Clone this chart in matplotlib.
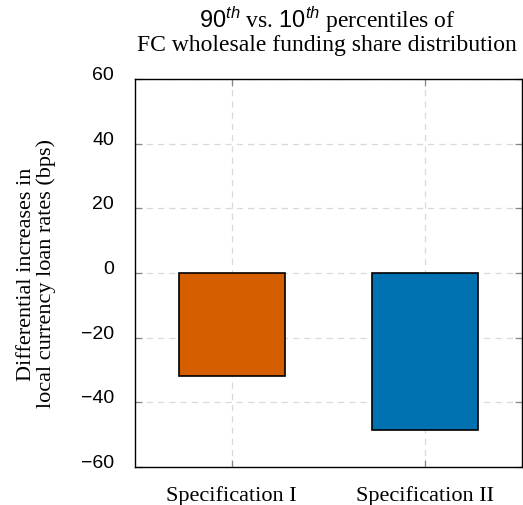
import matplotlib
matplotlib.use("Agg")
import matplotlib.pyplot as plt

specs = ["Specification I", "Specification II"]
diffs = [-32, -48.5]
bar_colors = ["#D55E00", "#0072B2"]
yticks = [-60, -40, -20, 0, 20, 40, 60]

plt.rcParams["mathtext.fontset"] = "custom"
plt.rcParams["mathtext.rm"] = "Liberation Sans"
plt.rcParams["mathtext.it"] = "Liberation Sans:italic"

fig = plt.figure(figsize=(5.23, 5.06), dpi=100)
ax = fig.add_axes([135 / 523, 38 / 506, 387 / 523, 388 / 506])

x = [1, 2]
ax.bar(x, diffs, width=0.55, color=bar_colors, edgecolor="black", linewidth=1.2, zorder=3)

ax.set_xlim(0.5, 2.5)
ax.set_ylim(-60, 60)
ax.set_xticks(x)
ax.set_xticklabels(specs, family="Liberation Serif", fontsize=16)
ax.set_yticks(yticks)
ax.set_yticklabels([str(v).replace("-", "\u2212") for v in yticks],
                   family="Liberation Sans", fontsize=14, va="baseline")

ax.grid(True, linestyle=(0, (5, 4)), color="#d9d9d9", linewidth=0.9, zorder=0)
ax.tick_params(direction="in", length=5, color="#888888", top=True, right=True,
               width=0.9)
ax.tick_params(axis="y", pad=15)
ax.tick_params(axis="x", pad=13)
for s in ax.spines.values():
    s.set_linewidth(1.0)
    s.set_color("black")

ax.set_ylabel("Differential increases in\nlocal currency loan rates (bps)",
              family="Liberation Serif", fontsize=16, linespacing=1.05)
ax.yaxis.set_label_coords(-0.204, 0.5)

fig.text(327 / 523, 1 - 30 / 506,
         r"$\mathrm{90}^{th}$ vs. $\mathrm{10}^{th}$ percentiles of" + "\n" +
         "FC wholesale funding share distribution",
         ha="center", va="center", family="Liberation Serif", fontsize=17,
         linespacing=1.0)

fig.savefig("out.png", dpi=100)
